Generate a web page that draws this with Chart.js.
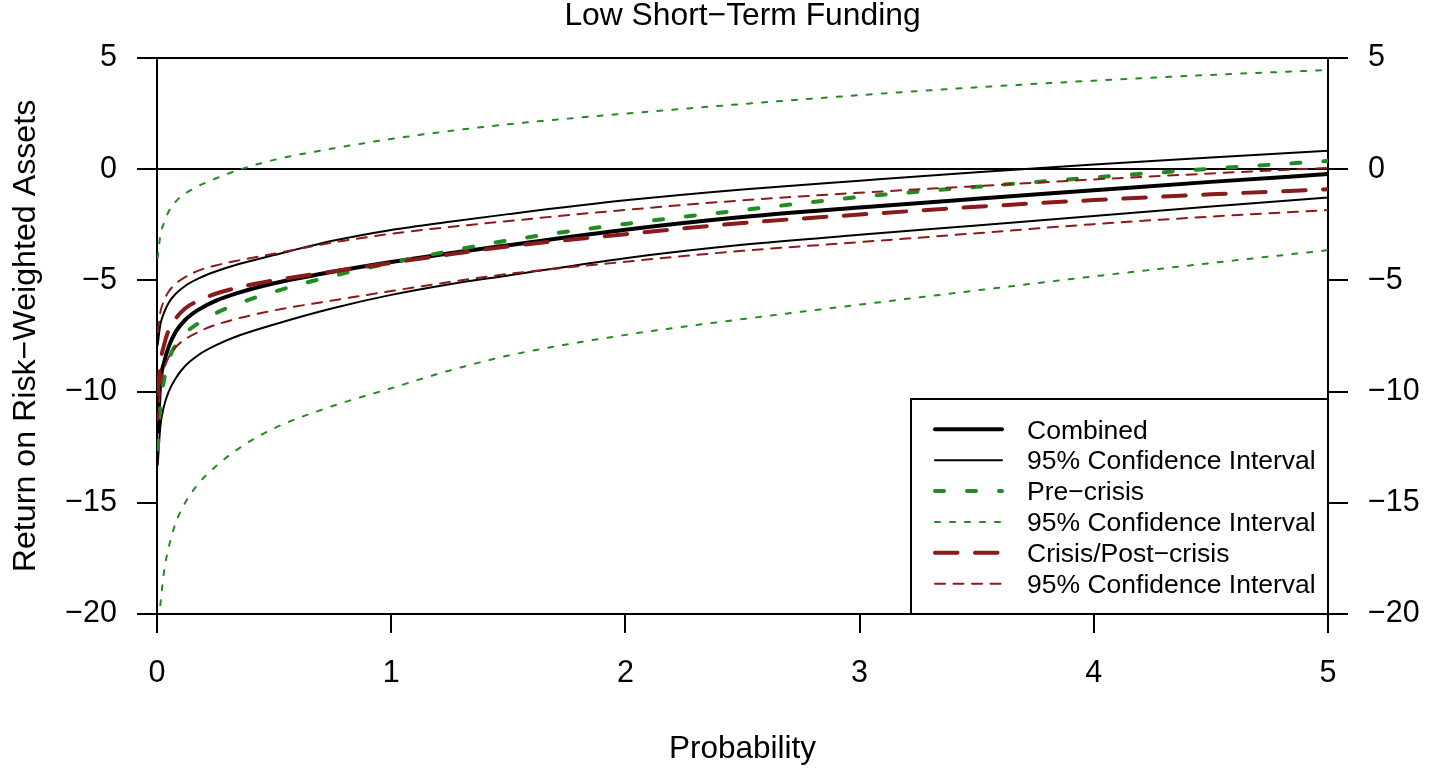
<!DOCTYPE html>
<html>
<head>
<meta charset="utf-8">
<title>Low Short−Term Funding</title>
<script src="https://cdn.jsdelivr.net/npm/chart.js@4.4.1/dist/chart.umd.min.js"></script>
<style>
  html, body { margin: 0; padding: 0; background: #ffffff; }
  #wrap { width: 1437px; height: 771px; }
</style>
</head>
<body>
<div id="wrap"><canvas id="chart" width="1437" height="771"></canvas></div>
<script>
// Probability grid shared by every curve
const probability = [0.003, 0.014, 0.03, 0.05, 0.08, 0.12, 0.18, 0.25, 0.35, 0.5, 0.75, 1, 1.25, 1.5, 2, 2.5, 3, 3.5, 4, 4.5, 5];

// Return on risk-weighted assets: combined sample and its 95% band
const combined      = [-11.8, -9.6, -8.7, -7.98, -7.31, -6.78, -6.30, -5.92, -5.55, -5.13, -4.61, -4.17, -3.78, -3.42, -2.72, -2.15, -1.72, -1.33, -0.95, -0.57, -0.22];
const combinedUpper = [-7.9, -7.0, -6.45, -6.0, -5.6, -5.25, -4.9, -4.6, -4.26, -3.86, -3.22, -2.73, -2.36, -2.02, -1.40, -0.91, -0.52, -0.14, 0.21, 0.53, 0.83];
const combinedLower = [-13.3, -11.6, -10.65, -10.0, -9.4, -8.85, -8.33, -7.92, -7.48, -6.98, -6.25, -5.65, -5.17, -4.78, -4.0, -3.4, -2.95, -2.53, -2.10, -1.68, -1.27];

// Pre-crisis estimate and its 95% band
const preCrisis      = [-12.6, -10.67, -9.48, -8.58, -7.9, -7.38, -6.9, -6.48, -6.03, -5.51, -4.8, -4.21, -3.68, -3.2, -2.46, -1.84, -1.25, -0.79, -0.37, 0.02, 0.37];
const preCrisisUpper = [-4.0, -3.0, -2.4, -1.9, -1.46, -1.1, -0.74, -0.42, -0.03, 0.42, 0.93, 1.36, 1.72, 2.02, 2.5, 2.93, 3.33, 3.68, 3.98, 4.24, 4.46];
const preCrisisLower = [null, -19.6, -18.1, -17.0, -15.9, -15.0, -14.1, -13.37, -12.55, -11.65, -10.65, -9.85, -9.05, -8.38, -7.45, -6.74, -6.09, -5.45, -4.82, -4.22, -3.64];

// Crisis / post-crisis estimate and its 95% band
const crisis      = [-10.1, -8.73, -7.9, -7.23, -6.71, -6.26, -5.9, -5.6, -5.31, -5.0, -4.6, -4.21, -3.83, -3.47, -2.92, -2.42, -2.04, -1.69, -1.39, -1.13, -0.90];
const crisisUpper = [-7.3, -6.45, -5.9, -5.5, -5.15, -4.85, -4.55, -4.33, -4.1, -3.8, -3.3, -2.9, -2.6, -2.33, -1.83, -1.40, -1.06, -0.76, -0.46, -0.19, 0.06];
const crisisLower = [-11.3, -9.8, -9.0, -8.45, -8.0, -7.65, -7.3, -7.0, -6.7, -6.35, -5.9, -5.48, -5.07, -4.71, -4.16, -3.67, -3.28, -2.88, -2.47, -2.13, -1.84];

// Axis ticks and text
const xTicks = [0, 1, 2, 3, 4, 5];
const yTicks = [-20, -15, -10, -5, 0, 5];
const boxLines = [5, 0, -20];
const chartTitle = 'Low Short\u2212Term Funding';
const xTitle = 'Probability';
const yTitle = 'Return on Risk\u2212Weighted Assets';
const ciLabel = '95% Confidence Interval';

const FONT = "'Liberation Sans', Arial, Helvetica, sans-serif";
const GREEN = '#228B22';
const RED = '#8B1A1A';

const toPoints = ys => probability.map((x, i) => ({ x, y: ys[i] }));
const minus = v => (v < 0 ? '\u2212' + Math.abs(v) : String(v));

function series(label, ys, style, inLegend, order) {
  return Object.assign({
    label,
    data: toPoints(ys),
    inLegend,
    order,
    fill: false,
    pointRadius: 0,
    pointHoverRadius: 0,
    cubicInterpolationMode: 'monotone',
    borderJoinStyle: 'round'
  }, style);
}

const thickBlack = { borderColor: '#000000', borderWidth: 4, borderCapStyle: 'round' };
const thinBlack  = { borderColor: '#000000', borderWidth: 2, borderCapStyle: 'round' };
const thickGreen = { borderColor: GREEN, borderWidth: 4, borderDash: [9, 23], borderCapStyle: 'round' };
const thinGreen  = { borderColor: GREEN, borderWidth: 2, borderDash: [5, 10], borderCapStyle: 'round' };
const thickRed   = { borderColor: RED, borderWidth: 4, borderDash: [22.5, 17.5], borderCapStyle: 'round' };
const thinRed    = { borderColor: RED, borderWidth: 2, borderDash: [10, 8.5], borderCapStyle: 'round' };

const datasets = [
  series('Combined', combined, thickBlack, true, 7),
  series(ciLabel, combinedUpper, thinBlack, true, 6),
  series(ciLabel, combinedLower, thinBlack, false, 6),
  series('Pre\u2212crisis', preCrisis, thickGreen, true, 5),
  series(ciLabel, preCrisisUpper, thinGreen, true, 4),
  series(ciLabel, preCrisisLower, thinGreen, false, 4),
  series('Crisis/Post\u2212crisis', crisis, thickRed, true, 3),
  series(ciLabel, crisisUpper, thinRed, true, 2),
  series(ciLabel, crisisLower, thinRed, false, 2)
];

// Boxed key in the lower-right corner of the plotting region
const legendBox = {
  id: 'legendBox',
  afterDatasetsDraw(chart) {
    const { ctx, chartArea } = chart;
    const w = 417, h = 215;
    const x0 = chartArea.right - w;
    const y0 = chartArea.bottom - h;
    ctx.save();
    ctx.fillStyle = '#ffffff';
    ctx.fillRect(x0, y0, w, h);
    ctx.strokeStyle = '#000000';
    ctx.lineWidth = 2;
    ctx.setLineDash([]);
    ctx.strokeRect(x0, y0, w, h);
    const entries = chart.data.datasets.filter(d => d.inLegend);
    entries.forEach((d, i) => {
      const y = y0 + 30.3 + i * 30.87;
      ctx.beginPath();
      ctx.setLineDash(d.borderDash || []);
      ctx.lineCap = d.borderCapStyle || 'butt';
      ctx.lineWidth = d.borderWidth;
      ctx.strokeStyle = d.borderColor;
      ctx.moveTo(x0 + 24, y);
      ctx.lineTo(x0 + 91, y);
      ctx.stroke();
      ctx.setLineDash([]);
      ctx.fillStyle = '#000000';
      ctx.font = '26.5px ' + FONT;
      ctx.textAlign = 'left';
      ctx.textBaseline = 'middle';
      ctx.fillText(d.label, x0 + 116, y + 2);
    });
    ctx.restore();
  }
};

const tickFont = { family: FONT, size: 30.5 };

new Chart(document.getElementById('chart'), {
  type: 'line',
  data: { datasets },
  options: {
    responsive: false,
    animation: false,
    devicePixelRatio: 1,
    events: [],
    layout: { padding: 0 },
    plugins: {
      legend: { display: false },
      tooltip: { enabled: false },
      title: {
        display: true,
        text: chartTitle,
        fullSize: false,
        color: '#000000',
        font: { family: FONT, size: 31.8, weight: 'normal', lineHeight: 1 },
        padding: { top: 0.5, bottom: 25.7 }
      }
    },
    scales: {
      x: {
        type: 'linear',
        position: 'bottom',
        min: 0,
        max: 5,
        afterBuildTicks: s => { s.ticks = xTicks.map(v => ({ value: v })); },
        ticks: { color: '#000000', font: tickFont, padding: 22, maxRotation: 0, autoSkip: false },
        grid: { drawOnChartArea: false, drawTicks: true, tickLength: 19, tickColor: '#000000', tickWidth: 2, lineWidth: 2, color: '#000000' },
        border: { display: true, color: '#000000', width: 2 },
        title: { display: true, text: xTitle, color: '#000000', font: { family: FONT, size: 31.5, lineHeight: 1.2 }, padding: { top: 0, bottom: 3 } },
        afterFit: s => { s.height = 157; }
      },
      y: {
        position: 'left',
        min: -20,
        max: 5,
        afterBuildTicks: s => { s.ticks = yTicks.map(v => ({ value: v })); },
        ticks: { color: '#000000', font: tickFont, padding: 20, callback: v => minus(v) },
        grid: {
          drawOnChartArea: true,
          drawTicks: true,
          tickLength: 20,
          tickColor: '#000000',
          tickWidth: 2,
          lineWidth: 2,
          color: c => (c.tick && boxLines.includes(c.tick.value) ? '#000000' : 'rgba(0,0,0,0)')
        },
        border: { display: true, color: '#000000', width: 2 },
        title: { display: true, text: yTitle, color: '#000000', font: { family: FONT, size: 32.2, lineHeight: 1.2 }, padding: { top: 6.5, bottom: 0 } },
        afterFit: s => { s.width = 157; }
      },
      y2: {
        position: 'right',
        min: -20,
        max: 5,
        afterBuildTicks: s => { s.ticks = yTicks.map(v => ({ value: v })); },
        ticks: { color: '#000000', font: tickFont, padding: 20, callback: v => minus(v) },
        grid: { drawOnChartArea: false, drawTicks: true, tickLength: 20, tickColor: '#000000', tickWidth: 2, lineWidth: 2, color: '#000000' },
        border: { display: true, color: '#000000', width: 2 },
        afterFit: s => { s.width = 109; }
      }
    }
  },
  plugins: [legendBox]
});
</script>
</body>
</html>
